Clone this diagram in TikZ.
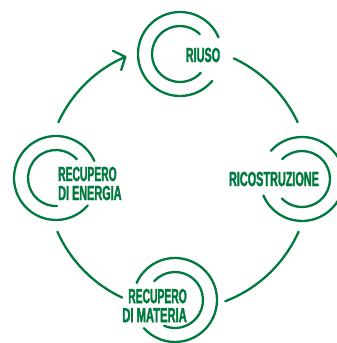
\documentclass[tikz,border=0pt]{standalone}
\usepackage{fontspec}
\setmainfont{Liberation Sans}[FakeStretch=0.53,BoldFeatures={FakeBold=1.6}]
\usetikzlibrary{arrows.meta}
\definecolor{leaf}{HTML}{007A3F}
\tikzset{
  ringline/.style={draw=leaf,line width=2.3pt,line cap=round},
  cycleline/.style={draw=leaf,line width=2.3pt,line cap=round},
  cyclearrow/.style={cycleline,-{Straight Barb[length=9pt,width=21pt,line width=2.3pt,round]}},
  lab/.style={text=leaf,inner sep=0pt,font=\fontsize{20.5}{19}\selectfont\bfseries}
}
\newcommand{\rings}[5]{% centre, outer start, outer end, inner start, inner end
  \draw[ringline] ([shift={(#2:42pt)}]#1) arc[start angle=#2,end angle=#3,radius=42pt];
  \draw[ringline] ([shift={(#4:28pt)}]#1) arc[start angle=#4,end angle=#5,radius=28pt];
}
\newcommand{\narrowword}[1]{\scalebox{.95}[1]{#1}}
\newcommand{\widerword}[1]{\scalebox{1.03}[1]{#1}}
\begin{document}
\begin{tikzpicture}[x=1pt,y=1pt]
\useasboundingbox (0,0) rectangle (337,343);
\coordinate (hub) at (178,165);
\coordinate (riuso) at (180,289);
\coordinate (ricos) at (302,164);
\coordinate (energia) at (56,165);
\coordinate (materia) at (175,43);
\rings{riuso}{23.5}{320}{45}{318}
\rings{ricos}{138}{-157}{135}{-136}
\rings{energia}{24}{319}{42}{272}
\rings{materia}{156}{-138}{138}{-113}
\node[lab,anchor=center] (tRiuso) at (203,288) {RIUSO};
\node[lab,anchor=center] (tRicos) at (274,164) {RICOSTRUZIONE};
\node[lab,anchor=west,align=left] (tEnergia) at (58,159.5) {\narrowword{RECUPERO}\\DI ENERGIA};
\node[lab,anchor=east,align=right] (tMateria) at (187,37.5) {\narrowword{RECUPERO}\\\widerword{DI MATERIA}};
\coordinate (a1) at ([shift={(155:132pt)}]hub);
\coordinate (a2) at ([shift={(65:132pt)}]hub);
\coordinate (a3) at ([shift={(-24:132pt)}]hub);
\coordinate (a4) at ([shift={(245:132pt)}]hub);
\draw[cyclearrow] (a1) arc[start angle=155,end angle=113,radius=132pt];
\draw[cycleline] (a2) arc[start angle=65,end angle=25,radius=132pt];
\draw[cycleline] (a3) arc[start angle=-24,end angle=-69,radius=132pt];
\draw[cycleline] (a4) arc[start angle=245,end angle=204,radius=132pt];
\end{tikzpicture}
\end{document}
